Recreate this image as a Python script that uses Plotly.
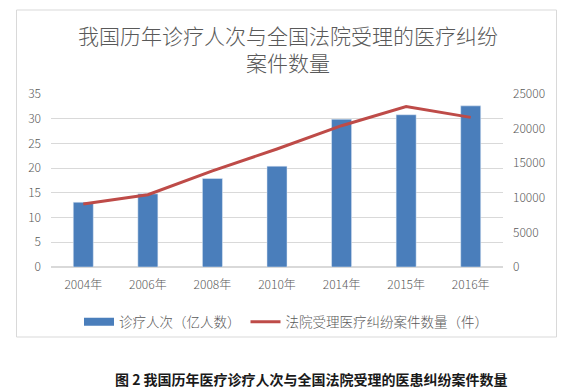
import plotly.graph_objects as go

years = ["2004年", "2006年", "2008年", "2010年", "2014年", "2015年", "2016年"]
visits = [13.1, 14.8, 17.9, 20.4, 29.9, 30.8, 32.6]          # 诊疗人次（亿人数）
cases = [9100, 10450, 13900, 17050, 20420, 23200, 21620]    # 法院受理医疗纠纷案件数量（件）

title_line1 = "我国历年诊疗人次与全国法院受理的医疗纠纷"
title_line2 = "案件数量"
caption = "图 2 我国历年医疗诊疗人次与全国法院受理的医患纠纷案件数量"
bar_name = "诊疗人次（亿人数）"
line_name = "法院受理医疗纠纷案件数量（件）"

W, H = 581, 390
OFF = 8  # page body margin shifts the figure by this many pixels
# target plot area in screen pixels: x 50.7..502.7, y 94.3..267.3
L = round(50.7 - OFF)
T = round(94.3 - OFF)
PW, PH = 452, 173
R = W - L - PW
B = H - T - PH


def px(x):
    return (x - OFF - L) / PW


def py(y):
    return (T + PH - (y - OFF)) / PH


FONT = "Noto Sans CJK SC, Noto Sans, sans-serif"
GRAY = "#595959"
BLUE = "#4A7EBB"
RED = "#BE4B48"

fig = go.Figure()
fig.add_trace(go.Bar(x=years, y=visits, name=bar_name, marker_color=BLUE,
                     showlegend=False, yaxis="y"))
fig.add_trace(go.Scatter(x=years, y=cases, name=line_name, mode="lines",
                         line=dict(color=RED, width=3), yaxis="y2", showlegend=False))
# legend proxies
fig.add_trace(go.Scatter(x=[None], y=[None], mode="lines", name=bar_name,
                         line=dict(color=BLUE, width=8)))
fig.add_trace(go.Scatter(x=[None], y=[None], mode="lines", name=line_name,
                         line=dict(color=RED, width=3), yaxis="y2"))

fig.update_layout(
    width=W, height=H,
    margin=dict(l=L, r=R, t=T, b=B, autoexpand=False),
    paper_bgcolor="white", plot_bgcolor="white",
    font=dict(family=FONT, color=GRAY, size=12),
    bargap=0.69,
    showlegend=True,
    legend=dict(orientation="h", xanchor="center", yanchor="middle",
                x=px(286), y=py(322), font=dict(size=13.5, color=GRAY, weight=300),
                itemwidth=30, bgcolor="rgba(0,0,0,0)"),
    xaxis=dict(showgrid=False, showline=False, ticks="",
               tickfont=dict(size=12, color=GRAY, weight=300), ticklabelstandoff=9),
    yaxis=dict(range=[0, 35], dtick=5, showgrid=True, gridcolor="#D9D9D9",
               gridwidth=1, zeroline=True, zerolinecolor="#D9D9D9", showline=False,
               ticks="", tickfont=dict(size=12, color=GRAY, weight=300), ticklabelstandoff=9),
    yaxis2=dict(range=[0, 25000], dtick=5000, overlaying="y", side="right",
                tickformat="d",
                showgrid=False, zeroline=False, showline=False, ticks="",
                tickfont=dict(size=12, color=GRAY, weight=300), ticklabelstandoff=9),
    shapes=[dict(type="rect", xref="paper", yref="paper",
                 x0=px(16.5), x1=px(556.5), y0=py(337), y1=py(10),
                 line=dict(color="#D9D9D9", width=1), fillcolor="rgba(0,0,0,0)",
                 layer="below")],
    annotations=[
        dict(text=title_line1 + "<br>" + title_line2, xref="paper", yref="paper",
             x=px(288), y=py(48.5),
             showarrow=False, xanchor="center", yanchor="middle", align="center",
             font=dict(size=21, color=GRAY, family=FONT, weight=300)),
        dict(text="<b>" + caption + "</b>", xref="paper", yref="paper", x=px(311), y=py(379),
             showarrow=False, xanchor="center", yanchor="middle",
             font=dict(size=14, color="#1a1a1a", family=FONT)),
    ],
)

fig.write_html("out.html")
